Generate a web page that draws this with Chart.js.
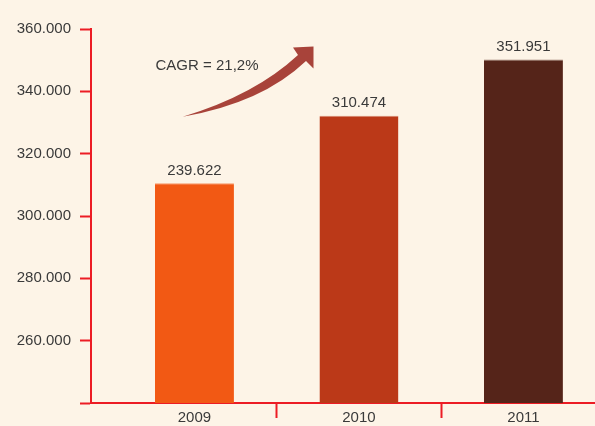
<!DOCTYPE html>
<html>
<head>
<meta charset="utf-8">
<script src="https://cdn.jsdelivr.net/npm/chart.js@4/dist/chart.umd.min.js"></script>
<style>
  html, body { margin: 0; padding: 0; background: #fdf4e7; }
  #wrap { width: 595px; height: 426px; }
</style>
</head>
<body>
<div id="wrap"><canvas id="c" width="595" height="426"></canvas></div>
<script>
// ---- data ----
const years = ['2009', '2010', '2011'];
const barValues = [310500, 332200, 350200];        // bar heights as drawn against the axis
const barLabels = ['239.622', '310.474', '351.951']; // value labels printed above bars
const barColors = ['#f25914', '#bb3918', '#552419'];
const yTicks = [240000, 260000, 280000, 300000, 320000, 340000, 360000];
const cagrText = 'CAGR = 21,2%';

const RED = '#ec1c24';
const TXT = '#3a3a3a';
const FONT = 'Liberation Sans';

const fmt = v => v === yTicks[0] ? '' : (v / 1000).toFixed(3);

const bgPlugin = {
  id: 'bg',
  beforeDraw(chart) {
    const c = chart.ctx;
    c.save(); c.fillStyle = '#fdf4e7'; c.fillRect(0, 0, chart.width, chart.height); c.restore();
  }
};

const labelPlugin = {
  id: 'barLabels',
  afterDatasetsDraw(chart) {
    const c = chart.ctx;
    const meta = chart.getDatasetMeta(0);
    c.save();
    c.font = '15px "' + FONT + '"';
    c.fillStyle = TXT;
    c.textAlign = 'center';
    c.textBaseline = 'bottom';
    meta.data.forEach((bar, i) => {
      c.fillText(barLabels[i], bar.x, bar.y - 5);
    });
    c.restore();
  }
};

const arrowPlugin = {
  id: 'arrow',
  afterDraw(chart) {
    const c = chart.ctx;
    c.save();
    // CAGR text
    c.font = '15px "' + FONT + '"';
    c.fillStyle = TXT;
    c.textAlign = 'center';
    c.textBaseline = 'middle';
    c.fillText(cagrText, 207, 66);
    // curved arrow
    c.fillStyle = '#a8433a';
    c.beginPath();
    c.moveTo(182.7, 116.7);
    c.quadraticCurveTo(255, 95, 298, 55);
    c.lineTo(293, 47.5);
    c.lineTo(313.5, 46.5);
    c.lineTo(313.5, 68.5);
    c.lineTo(306, 61);
    c.quadraticCurveTo(262, 103, 182.7, 116.7);
    c.closePath();
    c.fill();
    c.restore();
  }
};

new Chart(document.getElementById('c'), {
  type: 'bar',
  data: {
    datasets: [{
      data: years.map((y, i) => ({ x: i + 1, y: barValues[i] })),
      backgroundColor: barColors,
      borderColor: barColors.map(c => c + '99'),
      borderWidth: { top: 1, left: 0, right: 0, bottom: 0 },
      borderSkipped: 'bottom',
      barPercentage: 0.48,
      categoryPercentage: 1
    }]
  },
  options: {
    responsive: false,
    animation: false,
    layout: { padding: { top: 29, left: 0, right: 0, bottom: 0 } },
    plugins: { legend: { display: false }, tooltip: { enabled: false } },
    scales: {
      x: {
        type: 'linear',
        offset: false,
        min: 0.371,
        max: 3.435,
        afterBuildTicks: s => { s.ticks = years.map((_, i) => ({ value: i + 1 })); },
        afterFit: s => { s.height = 23; },
        grid: {
          offset: true,
          drawOnChartArea: false,
          drawTicks: true,
          tickLength: 15,
          tickWidth: 2,
          tickColor: ctx => ctx.index === 0 ? 'rgba(0,0,0,0)' : RED,
          color: RED
        },
        border: { display: true, color: RED, width: 2 },
        ticks: {
          callback: v => years[v - 1] || '',
          color: TXT,
          font: { family: FONT, size: 15 },
          padding: -9,
          maxRotation: 0,
          autoSkip: false
        }
      },
      y: {
        min: yTicks[0],
        max: yTicks[yTicks.length - 1],
        afterBuildTicks: s => { s.ticks = yTicks.map(v => ({ value: v })); },
        afterFit: s => { s.width = 91; },
        grid: {
          drawOnChartArea: false,
          drawTicks: true,
          tickLength: 11,
          tickWidth: 2,
          tickColor: RED,
          color: RED
        },
        border: { display: true, color: RED, width: 2 },
        ticks: {
          callback: v => fmt(v),
          color: TXT,
          font: { family: FONT, size: 15 },
          padding: 9
        }
      }
    }
  },
  plugins: [bgPlugin, labelPlugin, arrowPlugin]
});
</script>
</body>
</html>
